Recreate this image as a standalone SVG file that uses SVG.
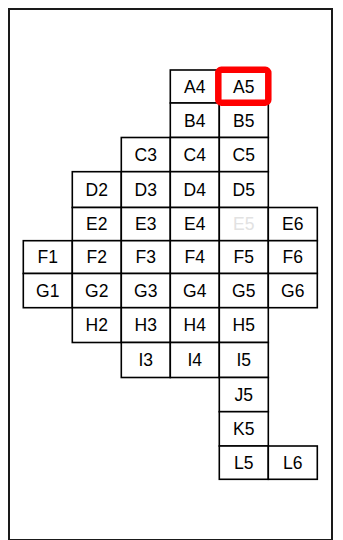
<svg xmlns="http://www.w3.org/2000/svg" width="343" height="540" viewBox="0 0 343 540">
  <style>
    .cell rect { fill: #ffffff; stroke: #000000; stroke-width: 1.6; }
    .cell text { font-family: "Liberation Sans", Arial, sans-serif; font-size: 17.5px; fill: #000000; text-anchor: middle; }
    .cell text.dim { fill: #e2e2e2; }
    .frame { fill: #ffffff; stroke: #1a1a1a; stroke-width: 2; }
    .mark { fill: none; stroke: #ff0000; stroke-width: 6.5; }
  </style>
  <!-- outer frame -->
  <rect class="frame" x="9" y="9" width="323" height="531"/>

  <!-- row A -->
  <g id="A4" class="cell"><rect x="170.3" y="70" width="49" height="33"/><text x="194.8" y="92.8">A4</text></g>
  <g id="A5" class="cell"><rect x="219.3" y="70" width="49" height="33"/><text x="243.8" y="92.8">A5</text></g>
  <!-- row B -->
  <g id="B4" class="cell"><rect x="170.3" y="103" width="49" height="34.5"/><text x="194.8" y="126.6">B4</text></g>
  <g id="B5" class="cell"><rect x="219.3" y="103" width="49" height="34.5"/><text x="243.8" y="126.6">B5</text></g>
  <!-- row C -->
  <g id="C3" class="cell"><rect x="121.3" y="137.5" width="49" height="34.2"/><text x="145.8" y="160.9">C3</text></g>
  <g id="C4" class="cell"><rect x="170.3" y="137.5" width="49" height="34.2"/><text x="194.8" y="160.9">C4</text></g>
  <g id="C5" class="cell"><rect x="219.3" y="137.5" width="49" height="34.2"/><text x="243.8" y="160.9">C5</text></g>
  <!-- row D -->
  <g id="D2" class="cell"><rect x="72.3" y="171.7" width="49" height="35.8"/><text x="96.8" y="195.9">D2</text></g>
  <g id="D3" class="cell"><rect x="121.3" y="171.7" width="49" height="35.8"/><text x="145.8" y="195.9">D3</text></g>
  <g id="D4" class="cell"><rect x="170.3" y="171.7" width="49" height="35.8"/><text x="194.8" y="195.9">D4</text></g>
  <g id="D5" class="cell"><rect x="219.3" y="171.7" width="49" height="35.8"/><text x="243.8" y="195.9">D5</text></g>
  <!-- row E -->
  <g id="E2" class="cell"><rect x="72.3" y="207.5" width="49" height="33.2"/><text x="96.8" y="230.4">E2</text></g>
  <g id="E3" class="cell"><rect x="121.3" y="207.5" width="49" height="33.2"/><text x="145.8" y="230.4">E3</text></g>
  <g id="E4" class="cell"><rect x="170.3" y="207.5" width="49" height="33.2"/><text x="194.8" y="230.4">E4</text></g>
  <g id="E5" class="cell"><rect x="219.3" y="207.5" width="49" height="33.2"/><text class="dim" x="243.8" y="230.4">E5</text></g>
  <g id="E6" class="cell"><rect x="268.3" y="207.5" width="49" height="33.2"/><text x="292.8" y="230.4">E6</text></g>
  <!-- row F -->
  <g id="F1" class="cell"><rect x="23.3" y="240.7" width="49" height="32.8"/><text x="47.8" y="263.4">F1</text></g>
  <g id="F2" class="cell"><rect x="72.3" y="240.7" width="49" height="32.8"/><text x="96.8" y="263.4">F2</text></g>
  <g id="F3" class="cell"><rect x="121.3" y="240.7" width="49" height="32.8"/><text x="145.8" y="263.4">F3</text></g>
  <g id="F4" class="cell"><rect x="170.3" y="240.7" width="49" height="32.8"/><text x="194.8" y="263.4">F4</text></g>
  <g id="F5" class="cell"><rect x="219.3" y="240.7" width="49" height="32.8"/><text x="243.8" y="263.4">F5</text></g>
  <g id="F6" class="cell"><rect x="268.3" y="240.7" width="49" height="32.8"/><text x="292.8" y="263.4">F6</text></g>
  <!-- row G -->
  <g id="G1" class="cell"><rect x="23.3" y="273.5" width="49" height="34.2"/><text x="47.8" y="296.9">G1</text></g>
  <g id="G2" class="cell"><rect x="72.3" y="273.5" width="49" height="34.2"/><text x="96.8" y="296.9">G2</text></g>
  <g id="G3" class="cell"><rect x="121.3" y="273.5" width="49" height="34.2"/><text x="145.8" y="296.9">G3</text></g>
  <g id="G4" class="cell"><rect x="170.3" y="273.5" width="49" height="34.2"/><text x="194.8" y="296.9">G4</text></g>
  <g id="G5" class="cell"><rect x="219.3" y="273.5" width="49" height="34.2"/><text x="243.8" y="296.9">G5</text></g>
  <g id="G6" class="cell"><rect x="268.3" y="273.5" width="49" height="34.2"/><text x="292.8" y="296.9">G6</text></g>
  <!-- row H -->
  <g id="H2" class="cell"><rect x="72.3" y="307.7" width="49" height="34.8"/><text x="96.8" y="331.4">H2</text></g>
  <g id="H3" class="cell"><rect x="121.3" y="307.7" width="49" height="34.8"/><text x="145.8" y="331.4">H3</text></g>
  <g id="H4" class="cell"><rect x="170.3" y="307.7" width="49" height="34.8"/><text x="194.8" y="331.4">H4</text></g>
  <g id="H5" class="cell"><rect x="219.3" y="307.7" width="49" height="34.8"/><text x="243.8" y="331.4">H5</text></g>
  <!-- row I -->
  <g id="I3" class="cell"><rect x="121.3" y="342.5" width="49" height="35"/><text x="145.8" y="366.3">I3</text></g>
  <g id="I4" class="cell"><rect x="170.3" y="342.5" width="49" height="35"/><text x="194.8" y="366.3">I4</text></g>
  <g id="I5" class="cell"><rect x="219.3" y="342.5" width="49" height="35"/><text x="243.8" y="366.3">I5</text></g>
  <!-- row J -->
  <g id="J5" class="cell"><rect x="219.3" y="377.5" width="49" height="34.2"/><text x="243.8" y="400.9">J5</text></g>
  <!-- row K -->
  <g id="K5" class="cell"><rect x="219.3" y="411.7" width="49" height="34.3"/><text x="243.8" y="435.1">K5</text></g>
  <!-- row L -->
  <g id="L5" class="cell"><rect x="219.3" y="446" width="49" height="33.3"/><text x="243.8" y="468.9">L5</text></g>
  <g id="L6" class="cell"><rect x="268.3" y="446" width="49" height="33.3"/><text x="292.8" y="468.9">L6</text></g>

  <!-- highlight on the selected cell -->
  <g id="selection">
    <rect class="mark" x="218.3" y="69.8" width="50" height="32.9" rx="3"/>
  </g>
</svg>
